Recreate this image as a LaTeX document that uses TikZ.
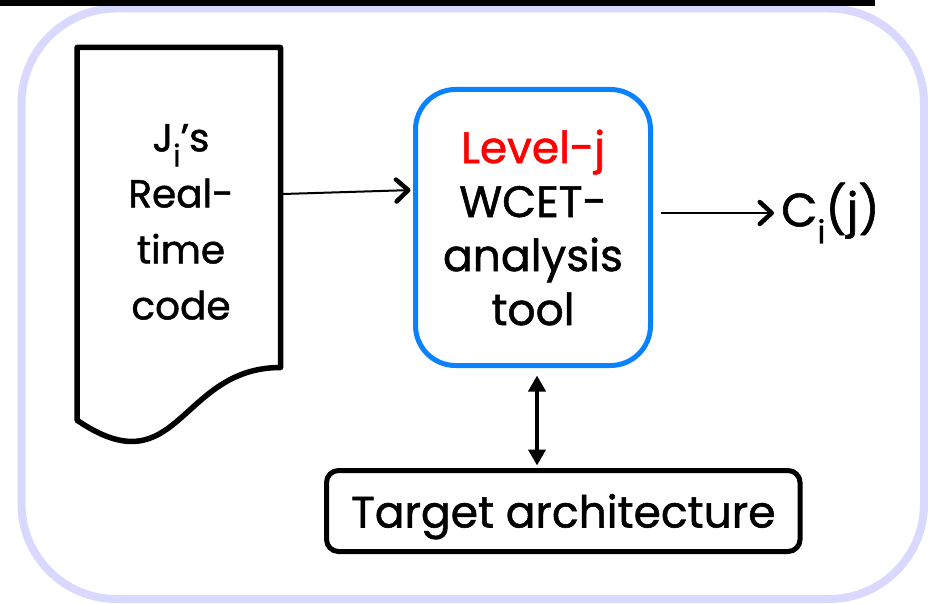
\documentclass[tikz,border=0pt]{standalone}
\usepackage{fontspec}
\setmainfont{Poppins}[FakeBold=1.2]
\usetikzlibrary{arrows.meta}
\definecolor{frameLav}{RGB}{217,217,255}
\definecolor{toolBlue}{RGB}{10,130,255}
\definecolor{levelRed}{RGB}{255,0,0}
\begin{document}
\begin{tikzpicture}[x=1pt,y=-1pt,
  thinarrow/.style={line width=2pt,
    -{Straight Barb[length=12pt,width=22pt,line width=4.5pt,round]}},
  bothwaysarrow/.style={line width=4pt,
    {Triangle[length=16pt,width=17pt]}-{Triangle[length=16pt,width=17pt]}},
  boxtext/.style={font=\fontsize{44}{54}\selectfont, align=center},
  codetext/.style={font=\fontsize{39}{56}\selectfont, align=center, inner sep=0pt},
  toolbox/.style={draw=toolBlue, line width=5pt, rounded corners=40pt,
    minimum width=235pt, minimum height=276pt, inner sep=0pt},
  archbox/.style={draw=black, line width=5pt, rounded corners=12pt,
    minimum width=473.5pt, minimum height=81pt, inner sep=0pt,
    text height=33pt, text depth=0pt}
]
\useasboundingbox (0,0) rectangle (928,604);

% outer frame and top rule
\draw[frameLav, line width=8pt, rounded corners=95pt] (21.5,8.5) rectangle (924,599);
\fill[black] (0,0) rectangle (875,6.5);

% source code document
\draw[line width=5.5pt, line join=round]
  (77,47.5) -- (280.5,47.5) -- (280.5,367.5)
  .. controls (178.75,367.5) and (178.75,489.4) .. (77,420.2) -- cycle;
\node[codetext] (code) at (181,222)
  {J\raisebox{-15pt}{\fontsize{30}{30}\selectfont i}’s\\Real-\\time\\code};
\coordinate (codeOut) at (283,194);

% analysis tool
\node[toolbox, boxtext] (tool) at (533,227.5)
  {\textcolor{levelRed}{Level-j}\\WCET-\\analysis\\tool};

% result
\node[anchor=west, inner sep=0pt, font=\fontsize{47}{47}\selectfont] (cij) at (781,213)
  {C\raisebox{-17pt}{\fontsize{32}{32}\selectfont i}(j)};

% target architecture
\node[archbox, font=\fontsize{44}{54}\selectfont] (arch) at (563.25,511)
  {Target architecture};

% connectors
\draw[thinarrow, shorten >=2.5pt] (codeOut) -- ([yshift=37.5pt]tool.west);
\draw[thinarrow, shorten <=7.5pt, shorten >=7pt] (tool.east |- cij.west) -- (cij.west);
\draw[bothwaysarrow, shorten <=7.5pt, shorten >=2.5pt]
  ([xshift=4pt]tool.south) -- ([xshift=4pt]tool.south |- arch.north);
\end{tikzpicture}
\end{document}
